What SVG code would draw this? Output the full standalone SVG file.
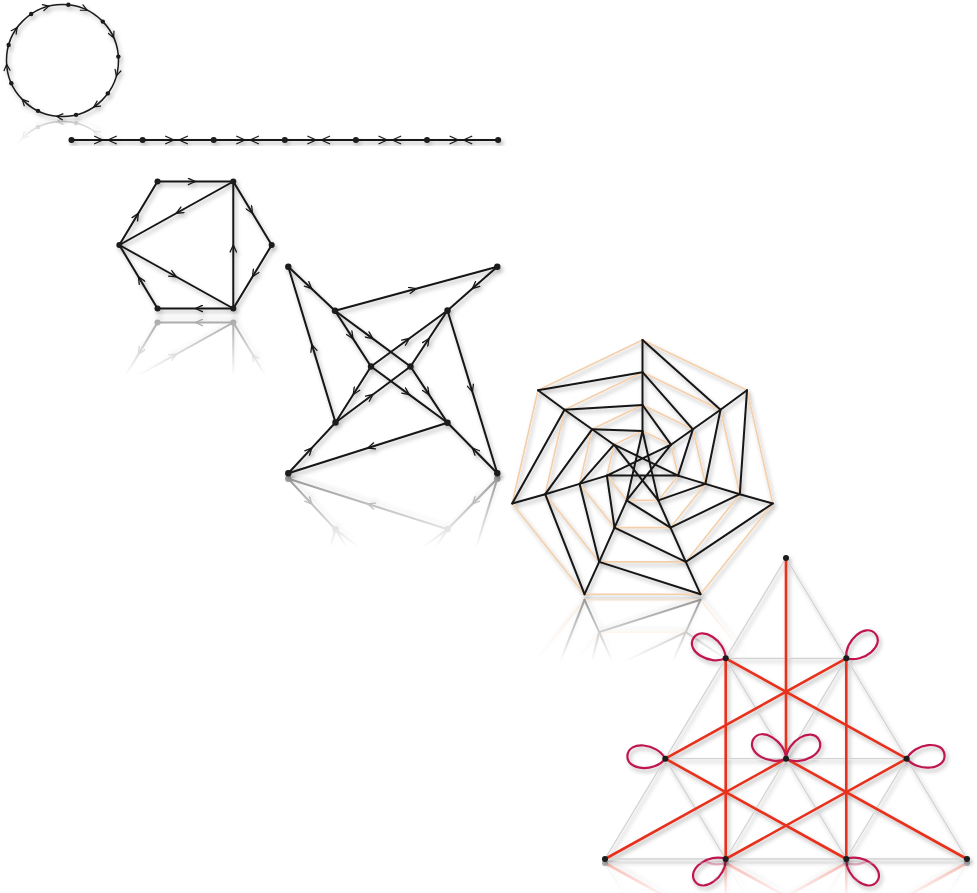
<svg xmlns="http://www.w3.org/2000/svg" width="977" height="893" viewBox="0 0 977 893">
<defs>
<style>
.blk{fill:none;stroke:#151515;stroke-width:2;stroke-linecap:round;stroke-linejoin:round}
.cir{fill:none;stroke:#1a1a1a;stroke-width:1.5}
.arw{fill:none;stroke:#151515;stroke-width:1.2;stroke-linecap:round;stroke-linejoin:round}
.dot{fill:#1a1a1a}
.org{fill:none;stroke:#f5cfaa;stroke-width:1.6;stroke-linejoin:round}
.grid{fill:none;stroke:#d2d2d2;stroke-width:1.3}
.red{fill:none;stroke:#e6321f;stroke-width:2.6;stroke-linecap:round}
.loop{fill:none;stroke:#bf1750;stroke-width:2.2}
.mid{marker-mid:url(#mA)}
</style>
<marker id="mA" viewBox="-8 -4 9 8" markerWidth="9" markerHeight="8" refX="0" refY="0" orient="auto" markerUnits="userSpaceOnUse">
<path d="M-7,-3.2 L0,0 L-7,3.2" fill="none" stroke="#151515" stroke-width="1.3" stroke-linecap="round" stroke-linejoin="round"/>
</marker>
<filter id="sh" x="-10%" y="-10%" width="125%" height="130%">
<feDropShadow dx="2" dy="3" stdDeviation="2" flood-color="#000" flood-opacity="0.3"/>
</filter>
<linearGradient id="fade" x1="0" y1="0" x2="0" y2="1">
<stop offset="0" stop-color="#fff"/><stop offset="1" stop-color="#000"/>
</linearGradient>
<mask id="mCirc" maskUnits="userSpaceOnUse" x="0" y="118" width="140" height="30"><rect x="0" y="119" width="140" height="25" fill="url(#fade)"/></mask>
<mask id="mHex" maskUnits="userSpaceOnUse" x="100" y="315" width="185" height="70"><rect x="100" y="316" width="185" height="60" fill="url(#fade)"/></mask>
<mask id="mStar" maskUnits="userSpaceOnUse" x="270" y="475" width="240" height="80"><rect x="270" y="476" width="240" height="72" fill="url(#fade)"/></mask>
<mask id="mHep" maskUnits="userSpaceOnUse" x="495" y="596" width="295" height="75"><rect x="495" y="597" width="295" height="65" fill="url(#fade)"/></mask>
<mask id="mTri" maskUnits="userSpaceOnUse" x="590" y="860" width="387" height="40"><rect x="590" y="861" width="387" height="40" fill="url(#fade)"/></mask>
<path id="carr" class="arw" d="M-6,-3 L0,0 L-6,3"/>
<path id="pair" class="arw" d="M-12.5,-3.8 L-4.2,0 L-12.5,3.8 M9.2,-3.8 L0.8,0 L9.2,3.8"/>
<path id="lp" class="loop" d="M0,0 C10,-15 38,-15 38,0 C38,15 10,15 0,0"/>
</defs>
<rect width="977" height="893" fill="#fff"/>

<!-- Figure 1: directed cycle -->
<g id="circle" filter="url(#sh)">
<g id="circle-edges">
<circle class="cir" cx="62.5" cy="60.5" r="56"/>
<use href="#carr" transform="translate(48.95,6.16) rotate(-14)"/>
<use href="#carr" transform="translate(87.05,10.17) rotate(26)"/>
<use href="#carr" transform="translate(113.66,37.72) rotate(66)"/>
<use href="#carr" transform="translate(116.33,75.94) rotate(106)"/>
<use href="#carr" transform="translate(93.81,106.93) rotate(146)"/>
<use href="#carr" transform="translate(56.65,116.19) rotate(186)"/>
<use href="#carr" transform="translate(22.22,99.4) rotate(226)"/>
<use href="#carr" transform="translate(6.64,64.41) rotate(266)"/>
<use href="#carr" transform="translate(17.19,27.58) rotate(306)"/>
</g>
<g id="circle-nodes" class="dot">
<circle id="c0" cx="68.35" cy="4.81" r="2.2"/>
<circle id="c1" cx="102.78" cy="21.6" r="2.2"/>
<circle id="c2" cx="118.36" cy="56.59" r="2.2"/>
<circle id="c3" cx="107.81" cy="93.42" r="2.2"/>
<circle id="c4" cx="76.05" cy="114.84" r="2.2"/>
<circle id="c5" cx="37.95" cy="110.83" r="2.2"/>
<circle id="c6" cx="11.34" cy="83.28" r="2.2"/>
<circle id="c7" cx="8.67" cy="45.06" r="2.2"/>
<circle id="c8" cx="31.19" cy="14.07" r="2.2"/>
</g>
</g>
<g mask="url(#mCirc)" opacity="0.25"><use href="#circle" transform="translate(0,238) scale(1,-1)"/></g>

<!-- Figure 2: path -->
<g id="path" filter="url(#sh)">
<g id="path-edges">
<line class="blk" x1="71.5" y1="140" x2="498.1" y2="140" stroke-width="1.8"/>
<use href="#pair" x="107.05" y="140"/>
<use href="#pair" x="178.15" y="140"/>
<use href="#pair" x="249.25" y="140"/>
<use href="#pair" x="320.35" y="140"/>
<use href="#pair" x="391.45" y="140"/>
<use href="#pair" x="462.55" y="140"/>
</g>
<g id="path-nodes" class="dot">
<circle id="p0" cx="71.5" cy="140" r="3"/>
<circle id="p1" cx="142.6" cy="140" r="3"/>
<circle id="p2" cx="213.7" cy="140" r="3"/>
<circle id="p3" cx="284.8" cy="140" r="3"/>
<circle id="p4" cx="355.9" cy="140" r="3"/>
<circle id="p5" cx="427" cy="140" r="3"/>
<circle id="p6" cx="498.1" cy="140" r="3"/>
</g>
</g>

<!-- Figure 3: hexagon -->
<g id="hexagon" filter="url(#sh)">
<g id="hex-edges" class="blk mid">
<path d="M157.5 181.5 L195.4 181.5 L233.3 181.5"/>
<path d="M233.3 181.5 L252.5 213.25 L271.7 245"/>
<path d="M271.7 245 L252.5 276.75 L233.3 308.5"/>
<path d="M233.3 308.5 L195.4 308.5 L157.5 308.5"/>
<path d="M157.5 308.5 L138.4 276.75 L119.3 245"/>
<path d="M119.3 245 L138.4 213.25 L157.5 181.5"/>
<path d="M233.3 181.5 L176.3 213.25 L119.3 245"/>
<path d="M119.3 245 L176.3 276.75 L233.3 308.5"/>
<path d="M233.3 308.5 L233.3 245 L233.3 181.5"/>
</g>
<g id="hex-nodes" class="dot">
<circle id="h0" cx="157.5" cy="181.5" r="3"/>
<circle id="h1" cx="233.3" cy="181.5" r="3"/>
<circle id="h2" cx="271.7" cy="245" r="3"/>
<circle id="h3" cx="233.3" cy="308.5" r="3"/>
<circle id="h4" cx="157.5" cy="308.5" r="3"/>
<circle id="h5" cx="119.3" cy="245" r="3"/>
</g>
</g>
<g mask="url(#mHex)" opacity="0.4"><use href="#hexagon" transform="translate(0,631) scale(1,-1)"/></g>

<!-- Figure 4: pinwheel -->
<g id="pinwheel" filter="url(#sh)">
<g id="pin-edges" class="blk mid">
<path d="M288.3 266.7 L311.65 288.7 L335 310.7"/>
<path d="M335 310.7 L416.15 288.7 L497.3 266.7"/>
<path d="M497.3 266.7 L472.4 288.6 L447.5 310.5"/>
<path d="M447.5 310.5 L472.4 391.9 L497.3 473.3"/>
<path d="M497.3 473.3 L472.4 448 L447.5 422.7"/>
<path d="M447.5 422.7 L367.9 448 L288.3 473.3"/>
<path d="M288.3 473.3 L311.9 447.9 L335.5 422.5"/>
<path d="M335.5 422.5 L311.9 344.6 L288.3 266.7"/>
<path d="M335 310.7 L353 338.6 L371 366.5"/>
<path d="M335 310.7 L372.75 338.6 L410.5 366.5"/>
<path d="M371 366.5 L409.25 338.5 L447.5 310.5"/>
<path d="M410.5 366.5 L429 338.5 L447.5 310.5"/>
<path d="M371 366.5 L353.25 394.5 L335.5 422.5"/>
<path d="M335.5 422.5 L373 394.5 L410.5 366.5"/>
<path d="M371 366.5 L409.25 394.6 L447.5 422.7"/>
<path d="M410.5 366.5 L429 394.6 L447.5 422.7"/>
</g>
<g id="pin-nodes" class="dot">
<circle id="s0" cx="288.3" cy="266.7" r="3.2"/>
<circle id="s1" cx="497.3" cy="266.7" r="3.2"/>
<circle id="s2" cx="497.3" cy="473.3" r="3.2"/>
<circle id="s3" cx="288.3" cy="473.3" r="3.2"/>
<circle id="s4" cx="335" cy="310.7" r="3.2"/>
<circle id="s5" cx="447.5" cy="310.5" r="3.2"/>
<circle id="s6" cx="447.5" cy="422.7" r="3.2"/>
<circle id="s7" cx="335.5" cy="422.5" r="3.2"/>
<circle id="s8" cx="371" cy="366.5" r="3.2"/>
<circle id="s9" cx="410.5" cy="366.5" r="3.2"/>
</g>
</g>
<g mask="url(#mStar)" opacity="0.45"><use href="#pinwheel" transform="translate(0,952) scale(1,-1)"/></g>

<!-- Figure 5: heptagonal web -->
<g id="web" filter="url(#sh)">
<g id="web-guides" class="org">
<polygon points="642.5,340 747,390.3 772.8,503.5 700.5,594.2 584.5,594.2 512.2,503.5 538,390.3"/>
<polygon points="642.5,372.2 720.5,409.8 739.8,494.2 685.8,561.9 599.2,561.9 545.2,494.2 564.5,409.8"/>
<polygon points="642.5,405 692.9,429.3 705.4,483.9 670.5,527.6 614.5,527.6 579.6,483.9 592.1,429.3"/>
<polygon points="642.5,431 671,444.7 678.1,475.6 658.3,500.4 626.7,500.4 606.9,475.6 614,444.7"/>
</g>
<g id="web-edges" class="blk" stroke-width="2.2">
<polyline points="642.5,340 642.5,372.2 642.5,405 642.5,431"/>
<polyline points="747,390.3 720.5,409.8 692.9,429.3 671,444.7"/>
<polyline points="772.8,503.5 739.8,494.2 705.4,483.9 678.1,475.6"/>
<polyline points="700.5,594.2 685.8,561.9 670.5,527.6 658.3,500.4"/>
<polyline points="584.5,594.2 599.2,561.9 614.5,527.6 626.7,500.4"/>
<polyline points="512.2,503.5 545.2,494.2 579.6,483.9 606.9,475.6"/>
<polyline points="538,390.3 564.5,409.8 592.1,429.3 614,444.7"/>
<path d="M642.5 340 L720.5 409.8 M642.5 372.2 L692.9 429.3 M642.5 405 L671 444.7"/>
<path d="M747 390.3 L739.8 494.2 M720.5 409.8 L705.4 483.9 M692.9 429.3 L678.1 475.6"/>
<path d="M772.8 503.5 L685.8 561.9 M739.8 494.2 L670.5 527.6 M705.4 483.9 L658.3 500.4"/>
<path d="M700.5 594.2 L599.2 561.9 M685.8 561.9 L614.5 527.6 M670.5 527.6 L626.7 500.4"/>
<path d="M584.5 594.2 L545.2 494.2 M599.2 561.9 L579.6 483.9 M614.5 527.6 L606.9 475.6"/>
<path d="M512.2 503.5 L564.5 409.8 M545.2 494.2 L592.1 429.3 M579.6 483.9 L614 444.7"/>
<path d="M538 390.3 L642.5 372.2 M564.5 409.8 L642.5 405 M592.1 429.3 L642.5 431"/>
<polygon points="642.5,431 658.3,500.4 614,444.7 678.1,475.6 606.9,475.6 671,444.7 626.7,500.4"/>
</g>
</g>
<g mask="url(#mHep)" opacity="0.45"><use href="#web" transform="translate(0,1194) scale(1,-1)"/></g>

<!-- Figure 6: triangle with loops -->
<g id="triangle" filter="url(#sh)">
<g id="tri-grid" class="grid">
<polygon points="786,558 967,859 605,859"/>
<line x1="725.7" y1="658.3" x2="846.3" y2="658.3"/>
<line x1="665.3" y1="758.7" x2="906.7" y2="758.7"/>
<line x1="725.7" y1="859" x2="846.3" y2="658.3"/>
<line x1="846.3" y1="859" x2="906.7" y2="758.7"/>
<line x1="846.3" y1="859" x2="725.7" y2="658.3"/>
<line x1="725.7" y1="859" x2="665.3" y2="758.7"/>
</g>
<g id="tri-edges" class="red">
<line x1="786" y1="558" x2="786" y2="758.7"/>
<line x1="725.7" y1="658.3" x2="725.7" y2="859"/>
<line x1="846.3" y1="658.3" x2="846.3" y2="859"/>
<line x1="725.7" y1="658.3" x2="906.7" y2="758.7"/>
<line x1="846.3" y1="658.3" x2="665.3" y2="758.7"/>
<line x1="665.3" y1="758.7" x2="846.3" y2="859"/>
<line x1="906.7" y1="758.7" x2="725.7" y2="859"/>
<line x1="786" y1="758.7" x2="605" y2="859"/>
<line x1="786" y1="758.7" x2="967" y2="859"/>
</g>
<g id="tri-loops">
<use href="#lp" transform="translate(725.7,658.3) rotate(212)"/>
<use href="#lp" transform="translate(846.3,658.3) rotate(-40)"/>
<use href="#lp" transform="translate(665.3,758.7) rotate(185)"/>
<use href="#lp" transform="translate(906.7,758.7) rotate(-6)"/>
<use href="#lp" transform="translate(786,758.7) rotate(211)"/>
<use href="#lp" transform="translate(786,758.7) rotate(-30)"/>
<use href="#lp" transform="translate(725.7,859) rotate(144)"/>
<use href="#lp" transform="translate(846.3,859) rotate(36)"/>
</g>
<g id="tri-nodes" class="dot">
<circle id="t0" cx="786" cy="558" r="3"/>
<circle id="t1" cx="725.7" cy="658.3" r="3"/>
<circle id="t2" cx="846.3" cy="658.3" r="3"/>
<circle id="t3" cx="665.3" cy="758.7" r="3"/>
<circle id="t4" cx="786" cy="758.7" r="3"/>
<circle id="t5" cx="906.7" cy="758.7" r="3"/>
<circle id="t6" cx="605" cy="859" r="3"/>
<circle id="t7" cx="725.7" cy="859" r="3"/>
<circle id="t8" cx="846.3" cy="859" r="3"/>
<circle id="t9" cx="967" cy="859" r="3"/>
</g>
</g>
<g mask="url(#mTri)" opacity="0.35"><use href="#triangle" transform="translate(0,1722) scale(1,-1)"/></g>
</svg>
